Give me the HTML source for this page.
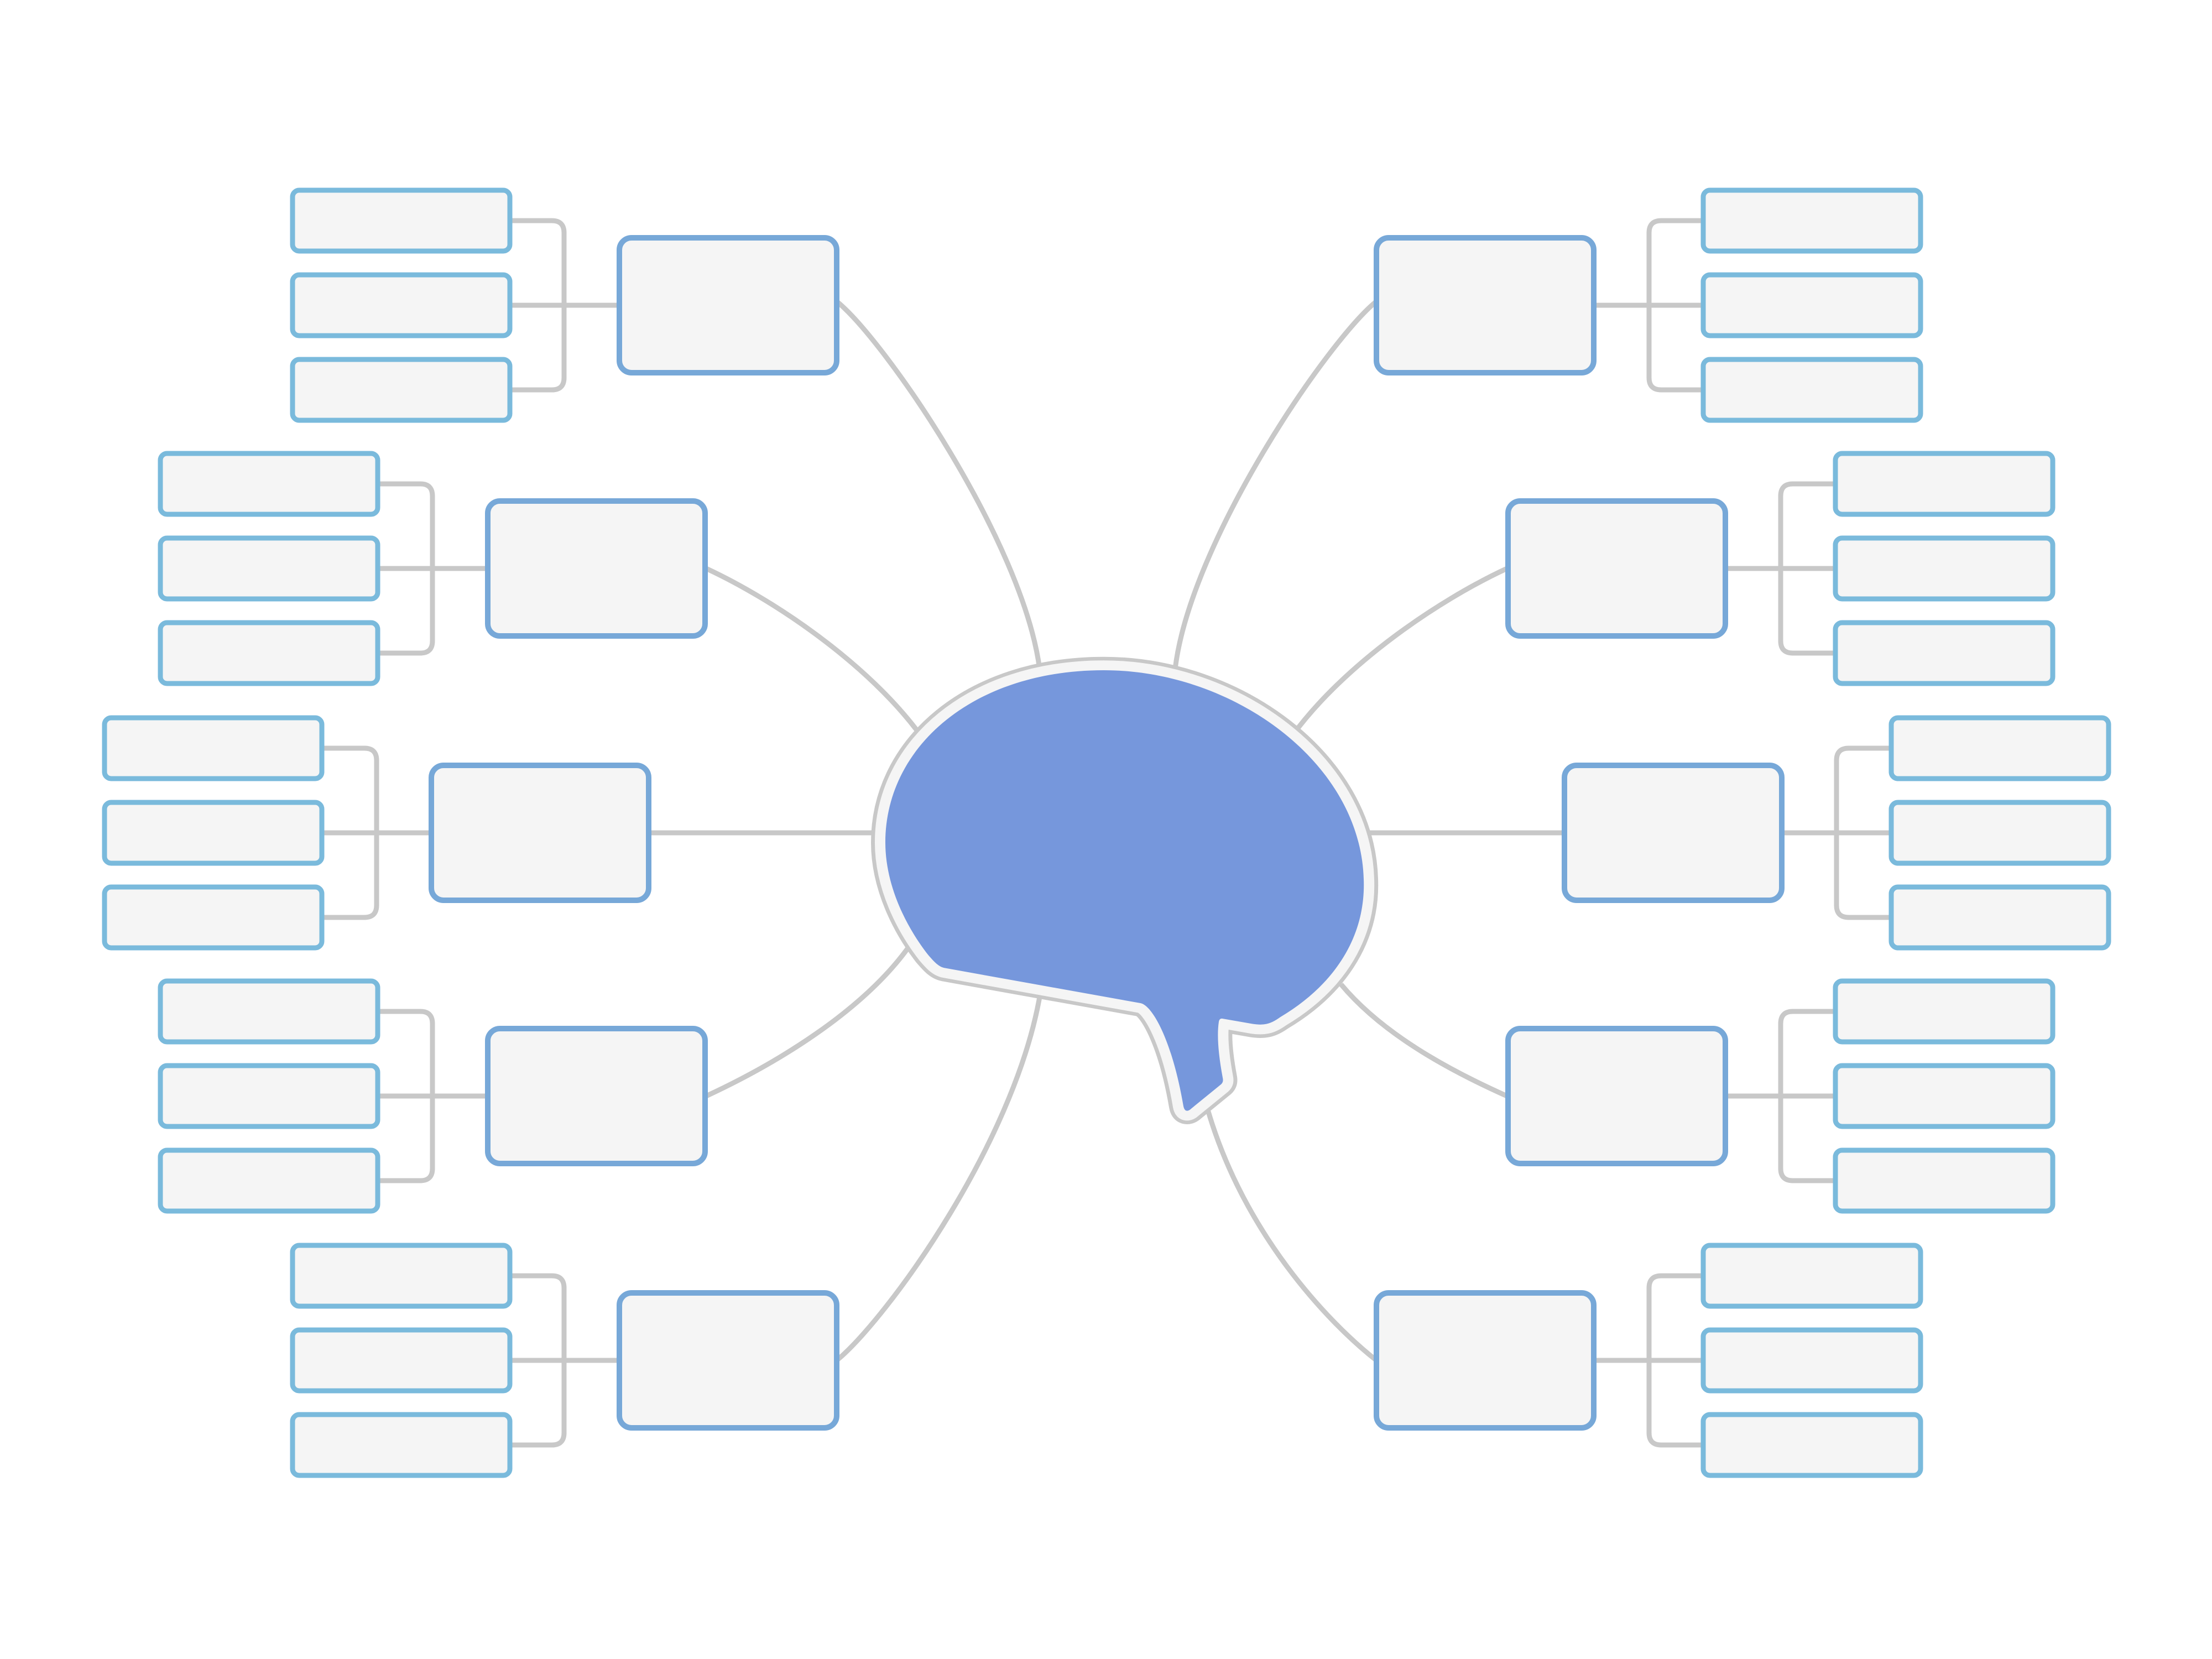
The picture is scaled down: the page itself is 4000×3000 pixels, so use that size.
<!DOCTYPE html>
<html><head><meta charset="utf-8"><style>html,body{margin:0;padding:0;background:#fff}svg{display:block}</style></head>
<body>
<svg xmlns="http://www.w3.org/2000/svg" xmlns:xlink="http://www.w3.org/1999/xlink" width="4000" height="3000" viewBox="0 0 4000 3000">
<rect width="4000" height="3000" fill="#fff"/>
<defs>
<g id="side">
  <g fill="none" stroke="#c8c8c8" stroke-width="9">
    <path d="M922,399 H998 Q1020,399 1020,421 V683 Q1020,705 998,705 H922 M922,552 H1120"/>
    <path d="M684,875 H760 Q782,875 782,897 V1159 Q782,1181 760,1181 H684 M684,1028 H882"/>
    <path d="M582,1353 H659 Q681,1353 681,1375 V1637 Q681,1659 659,1659 H582 M582,1506 H780"/>
    <path d="M684,1829 H760 Q782,1829 782,1851 V2113 Q782,2135 760,2135 H684 M684,1982 H882"/>
    <path d="M922,2307 H998 Q1020,2307 1020,2329 V2591 Q1020,2613 998,2613 H922 M922,2460 H1120"/>
  </g>
  <g fill="#f5f5f5" stroke="#77a8d8" stroke-width="10">
    <rect x="1120" y="430" width="393" height="244" rx="22"/>
    <rect x="882" y="906" width="393" height="244" rx="22"/>
    <rect x="780" y="1384" width="393" height="244" rx="22"/>
    <rect x="882" y="1860" width="393" height="244" rx="22"/>
    <rect x="1120" y="2338" width="393" height="244" rx="22"/>
  </g>
  <g fill="#f5f5f5" stroke="#7abadc" stroke-width="9">
    <rect x="529" y="344" width="393" height="110" rx="12"/>
    <rect x="529" y="497" width="393" height="110" rx="12"/>
    <rect x="529" y="650" width="393" height="110" rx="12"/>
    <rect x="290" y="820" width="393" height="110" rx="12"/>
    <rect x="290" y="973" width="393" height="110" rx="12"/>
    <rect x="290" y="1126" width="393" height="110" rx="12"/>
    <rect x="189" y="1298" width="393" height="110" rx="12"/>
    <rect x="189" y="1451" width="393" height="110" rx="12"/>
    <rect x="189" y="1604" width="393" height="110" rx="12"/>
    <rect x="290" y="1774" width="393" height="110" rx="12"/>
    <rect x="290" y="1927" width="393" height="110" rx="12"/>
    <rect x="290" y="2080" width="393" height="110" rx="12"/>
    <rect x="529" y="2252" width="393" height="110" rx="12"/>
    <rect x="529" y="2405" width="393" height="110" rx="12"/>
    <rect x="529" y="2558" width="393" height="110" rx="12"/>
  </g>
</g>
</defs>

<g fill="none" stroke="#c8c8c8" stroke-width="9">
  <path d="M1513,545 C1600,615 1850,980 1880,1210"/>
  <path d="M1277,1028 C1400,1085 1570,1200 1665,1330"/>
  <path d="M1177,1506 H1620"/>
  <path d="M1277,1982 C1400,1925 1560,1830 1645,1710"/>
  <path d="M1513,2460 C1600,2390 1850,2050 1885,1770"/>
  <path d="M2489,545 C2402,615 2152,980 2125,1210"/>
  <path d="M2725,1028 C2602,1085 2432,1200 2337,1330"/>
  <path d="M2825,1506 H2380"/>
  <path d="M2725,1982 C2620,1935 2500,1870 2425,1780"/>
  <path d="M2489,2460 C2400,2390 2250,2230 2185,2010"/>
</g>

<use xlink:href="#side" href="#side"/>
<use xlink:href="#side" href="#side" transform="translate(4002,0) scale(-1,1)"/>

<g transform="translate(0,1212) scale(1,0.935) translate(0,-1212)" stroke-linejoin="round">
  <path d="M1709,1788 L2063,1856 C2085,1862 2120,1930 2140,2055 C2142,2066 2148,2066 2154,2060 L2208,2013 C2212,2009 2212,2005 2211,2000 C2204,1960 2200,1920 2204,1892 C2205,1886 2208,1885 2212,1886 L2265,1896 C2290,1900 2300,1894 2315,1883 C2420,1816 2470,1720 2466,1616 C2460,1390 2230,1212 1996,1212 C1760,1212 1601,1360 1601,1545 C1601,1630 1640,1710 1678,1762 C1690,1777 1698,1786 1709,1788 Z" fill="none" stroke="#c8c8c8" stroke-width="52"/>
  <path d="M1709,1788 L2063,1856 C2085,1862 2120,1930 2140,2055 C2142,2066 2148,2066 2154,2060 L2208,2013 C2212,2009 2212,2005 2211,2000 C2204,1960 2200,1920 2204,1892 C2205,1886 2208,1885 2212,1886 L2265,1896 C2290,1900 2300,1894 2315,1883 C2420,1816 2470,1720 2466,1616 C2460,1390 2230,1212 1996,1212 C1760,1212 1601,1360 1601,1545 C1601,1630 1640,1710 1678,1762 C1690,1777 1698,1786 1709,1788 Z" fill="none" stroke="#f5f5f5" stroke-width="38"/>
  <path d="M1709,1788 L2063,1856 C2085,1862 2120,1930 2140,2055 C2142,2066 2148,2066 2154,2060 L2208,2013 C2212,2009 2212,2005 2211,2000 C2204,1960 2200,1920 2204,1892 C2205,1886 2208,1885 2212,1886 L2265,1896 C2290,1900 2300,1894 2315,1883 C2420,1816 2470,1720 2466,1616 C2460,1390 2230,1212 1996,1212 C1760,1212 1601,1360 1601,1545 C1601,1630 1640,1710 1678,1762 C1690,1777 1698,1786 1709,1788 Z" fill="#7697dc"/>
</g>
</svg>
</body></html>
